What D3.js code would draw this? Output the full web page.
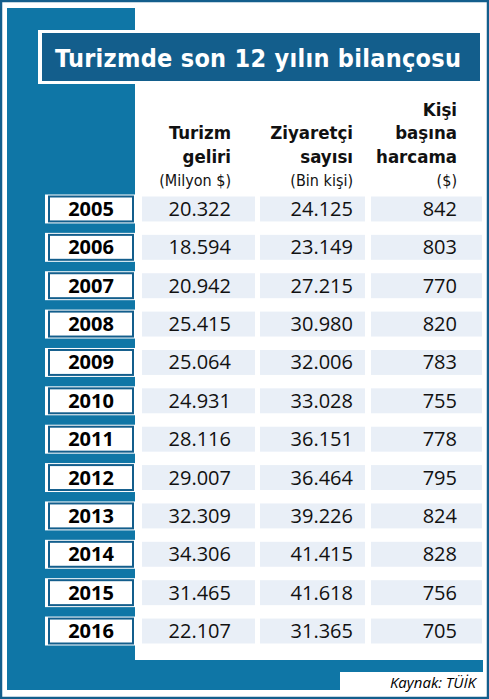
<!DOCTYPE html><html><head><meta charset="utf-8"><script src="https://cdn.jsdelivr.net/npm/d3@7"></script>
<style>body{margin:0;background:#fff}</style></head><body><svg id="c" width="489" height="699"></svg>
<script>
const years=["2005","2006","2007","2008","2009","2010","2011","2012","2013","2014","2015","2016"];
const gelir=["20.322","18.594","20.942","25.415","25.064","24.931","28.116","29.007","32.309","34.306","31.465","22.107"];
const ziyaretci=["24.125","23.149","27.215","30.980","32.006","33.028","36.151","36.464","39.226","41.415","41.618","31.365"];
const harcama=["842","803","770","820","783","755","778","795","824","828","756","705"];
const headers=[["Turizm","geliri","(Milyon $)"],["Ziyaretçi","sayısı","(Bin kişi)"],["Kişi","başına","harcama","($)"]];
const title="Turizmde son 12 yılın bilançosu", source="Kaynak: TÜİK";
const svg=d3.select("#c"), blue="#0f76a6", dark="#135e8c", cond="'DejaVu Sans Condensed','DejaVu Sans'";
svg.append("rect").attr("x",1).attr("y",1).attr("width",487).attr("height",697).attr("fill","#fff").attr("stroke",dark).attr("stroke-width",2.5);
svg.append("rect").attr("x",7).attr("y",8).attr("width",476).attr("height",682).attr("fill",blue);
svg.append("rect").attr("x",135).attr("y",8).attr("width",348).attr("height",652).attr("fill","#fff");
svg.append("rect").attr("x",340).attr("y",672).attr("width",143).attr("height",18).attr("fill","#fff");
svg.append("text").attr("x",476).attr("y",688).attr("text-anchor","end").attr("font-family","'Open Sans'").attr("font-style","italic").attr("font-size",15).text(source);
svg.append("rect").attr("x",38).attr("y",30).attr("width",445).attr("height",54).attr("fill","#fff");
svg.append("rect").attr("x",42).attr("y",33).attr("width",438).attr("height",48).attr("fill",dark);
svg.append("text").attr("x",55).attr("y",67).attr("fill","#fff").attr("font-family",cond).attr("font-weight","bold").attr("font-size",25).attr("textLength",406).text(title);
const colX=[231,353,457];
headers.forEach((h,i)=>{const n=h.length;h.forEach((t,j)=>{const paren=t.startsWith("(");
 svg.append("text").attr("x",colX[i]).attr("y",186-(n-1-j)*23.5).attr("text-anchor","end").attr("font-family",cond).attr("font-weight",paren?"normal":"bold").attr("font-size",paren?16:18.5).attr("fill","#111").text(t);});});
const y=d3.scaleBand().domain(years).range([196.5,643.5]).paddingInner(0.35);
const cells=[[142,255],[260,365],[371,482]];
years.forEach((yr,k)=>{const y0=y(yr),h=y.bandwidth();
 svg.append("rect").attr("x",45).attr("y",y0-2).attr("width",90).attr("height",h+4).attr("fill","#fff");
 svg.append("rect").attr("x",49).attr("y",y0).attr("width",84).attr("height",h).attr("fill","#fff").attr("stroke",dark).attr("stroke-width",2);
 svg.append("text").attr("x",91).attr("y",y0+h/2+7).attr("text-anchor","middle").attr("font-family","'Open Sans'").attr("font-weight","bold").attr("font-size",20).text(yr);
 [gelir[k],ziyaretci[k],harcama[k]].forEach((v,i)=>{
  svg.append("rect").attr("x",cells[i][0]).attr("y",y0).attr("width",cells[i][1]-cells[i][0]).attr("height",h).attr("fill","#e9eff7");
  svg.append("text").attr("x",colX[i]).attr("y",y0+h/2+7).attr("text-anchor","end").attr("font-family","'Open Sans'").attr("font-size",20).attr("fill","#111").text(v);});
});
</script></body></html>
